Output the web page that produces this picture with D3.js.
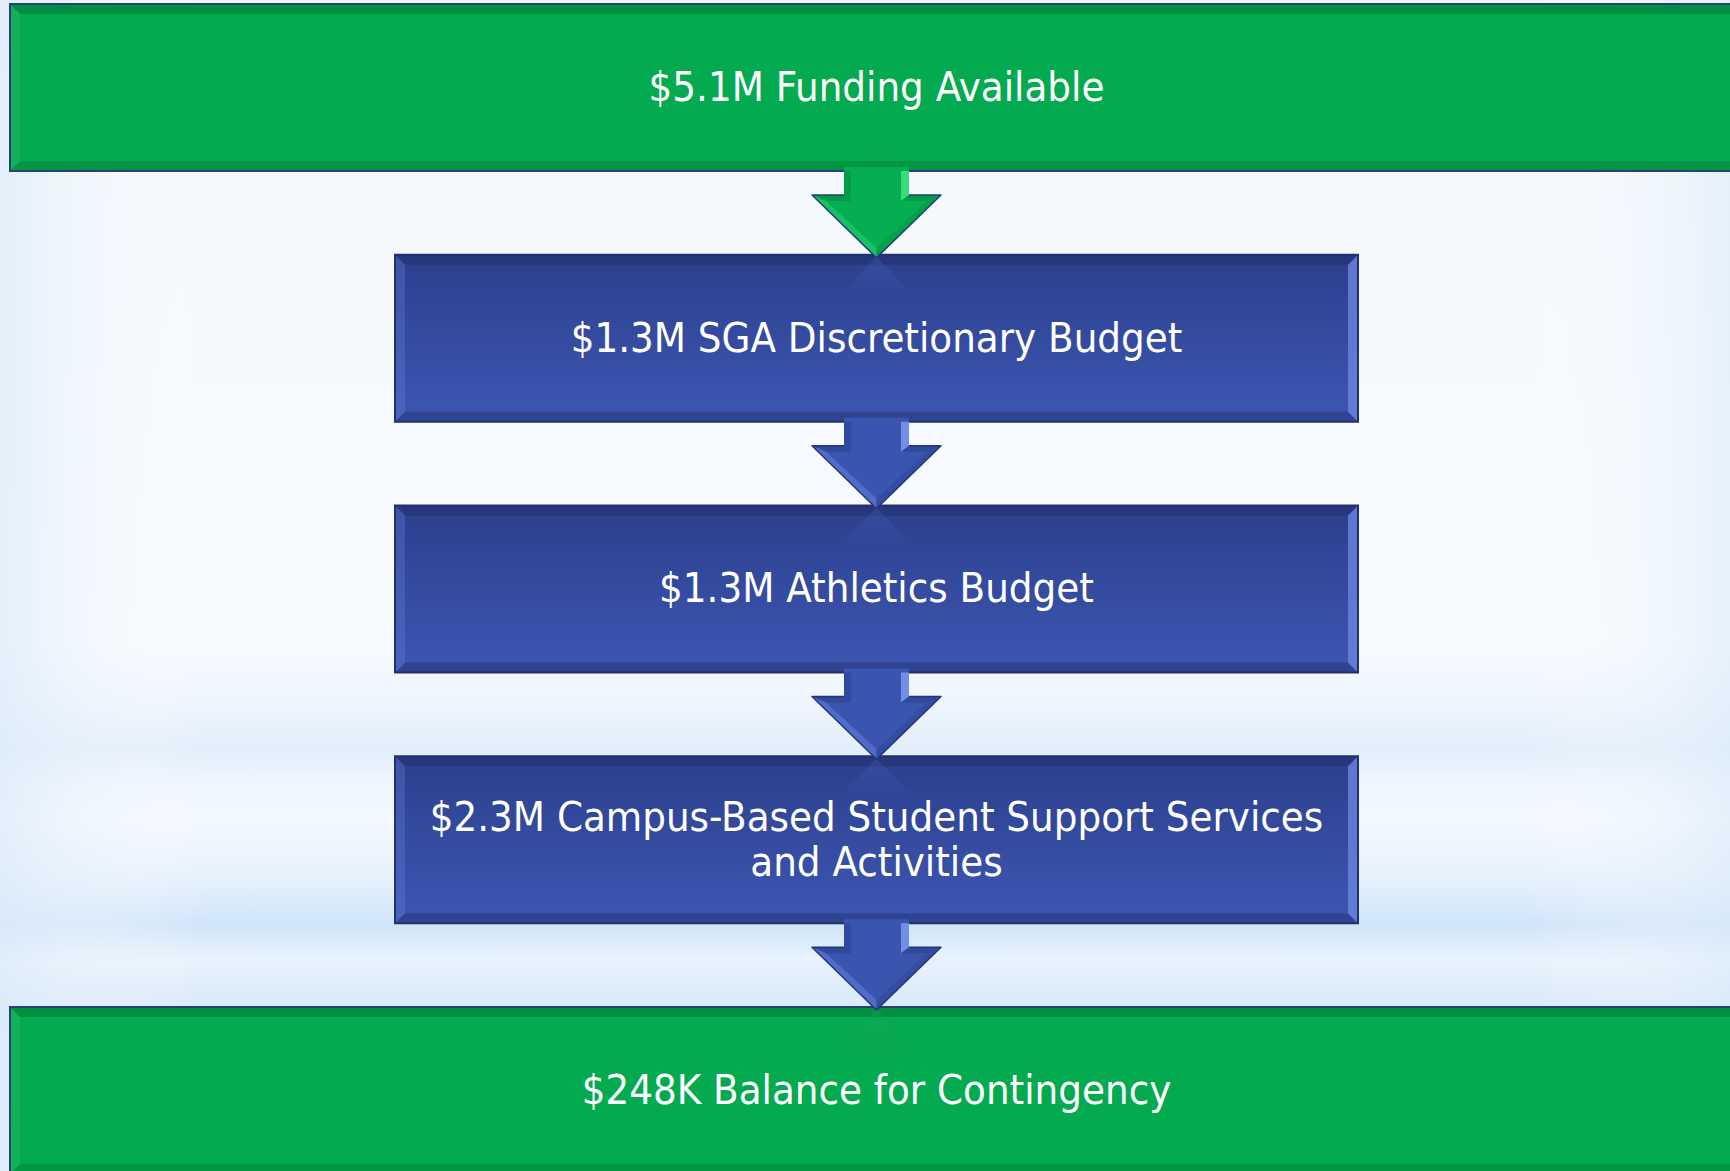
<!DOCTYPE html>
<html>
<head>
<meta charset="utf-8">
<script src="https://cdn.jsdelivr.net/npm/d3@7"></script>
<style>
  html, body { margin: 0; padding: 0; overflow: hidden; background: #f5f9fe; }
  .flow-label { font-family: "DejaVu Sans Condensed", "DejaVu Sans", sans-serif; fill: #ffffff; }
</style>
</head>
<body>
<div id="chart"></div>
<script>
// flow stages, top to bottom
const stages = ['funding', 'sga', 'athletics', 'campus', 'balance'];
const amounts = ['$5.1M', '$1.3M', '$1.3M', '$2.3M', '$248K'];
const labels = [
  ['Funding Available'],
  ['SGA Discretionary Budget'],
  ['Athletics Budget'],
  ['Campus-Based Student Support Services', 'and Activities'],
  ['Balance for Contingency']
];
const kinds = ['total', 'allocation', 'allocation', 'allocation', 'total'];

const width = 1730;
const height = 1171;

const svg = d3.select('#chart')
  .append('svg')
  .attr('width', width)
  .attr('height', height);

const defs = svg.append('defs');

// background
const bg = defs.append('linearGradient')
  .attr('id', 'bg')
  .attr('x1', 0).attr('y1', 0).attr('x2', 0).attr('y2', 1);
[
  [0, '#eef5fd'], [0.12, '#f5f9fe'], [0.55, '#f7fbff'], [0.6, '#eef5fd'],
  [0.64, '#e2eefb'], [0.67, '#eff6fe'], [0.7, '#f4f9ff'], [0.75, '#e6f1fc'],
  [0.79, '#cfe5f9'], [0.82, '#e9f3fd'], [0.85, '#dbeafa'], [1, '#e8f2fd']
].forEach(([o, c]) => bg.append('stop').attr('offset', o).attr('stop-color', c));

const side = defs.append('linearGradient')
  .attr('id', 'side')
  .attr('x1', 0).attr('y1', 0).attr('x2', 1).attr('y2', 0);
[[0, '#dcebfa', 0.7], [0.12, '#ffffff', 0], [0.88, '#ffffff', 0], [1, '#dcebfa', 0.6]]
  .forEach(([o, c, a]) => side.append('stop').attr('offset', o).attr('stop-color', c).attr('stop-opacity', a));

const blueFill = defs.append('linearGradient')
  .attr('id', 'blue-fill')
  .attr('x1', 0).attr('y1', 0).attr('x2', 0).attr('y2', 1);
blueFill.append('stop').attr('offset', 0).attr('stop-color', '#2c3f8c');
blueFill.append('stop').attr('offset', 1).attr('stop-color', '#3d57b2');

// fading reflection under each arrow tip
['total', 'allocation'].forEach(k => {
  const gr = defs.append('linearGradient')
    .attr('id', `reflect-${k}`)
    .attr('x1', 0).attr('y1', 0).attr('x2', 0).attr('y2', 1);
  const c = k === 'total' ? '#2a9f66' : '#4a66bf';
  gr.append('stop').attr('offset', 0).attr('stop-color', c).attr('stop-opacity', 0.7);
  gr.append('stop').attr('offset', 1).attr('stop-color', c).attr('stop-opacity', 0);
});

svg.append('rect').attr('width', width).attr('height', height).attr('fill', 'url(#bg)');
svg.append('rect').attr('width', width).attr('height', height).attr('fill', 'url(#side)');

// layout scales
const y = d3.scaleBand()
  .domain(stages)
  .range([4, 1174])
  .paddingInner(0.334)
  .paddingOuter(0);

const x = d3.scaleOrdinal()
  .domain(['total', 'allocation'])
  .range([[10, 1745], [395, 1358]]);

const cx = 876.5;
const bevel = 10;

const colors = {
  total: { fill: '#04aa4f', dark: '#02853c', light: '#35c06f', border: '#27407a' },
  allocation: { fill: 'url(#blue-fill)', dark: '#243474', light: '#6b83e2', border: '#22306c' }
};

const boxes = svg.append('g').attr('class', 'boxes')
  .selectAll('g')
  .data(stages)
  .join('g');

boxes.each(function (d, i) {
  const g = d3.select(this);
  const [x0, x1] = x(kinds[i]);
  const y0 = y(d);
  const y1 = y0 + y.bandwidth();
  const c = colors[kinds[i]];

  g.append('rect')
    .attr('x', x0).attr('y', y0)
    .attr('width', x1 - x0).attr('height', y1 - y0)
    .attr('fill', c.fill);

  // bevel faces
  g.append('path')
    .attr('d', `M${x0},${y0}L${x1},${y0}L${x1 - bevel},${y0 + bevel}L${x0 + bevel},${y0 + bevel}Z`)
    .attr('fill', c.dark).attr('opacity', 0.75);
  g.append('path')
    .attr('d', `M${x0},${y1}L${x1},${y1}L${x1 - bevel},${y1 - bevel}L${x0 + bevel},${y1 - bevel}Z`)
    .attr('fill', c.dark).attr('opacity', 0.55);
  g.append('path')
    .attr('d', `M${x0},${y0}L${x0 + bevel},${y0 + bevel}L${x0 + bevel},${y1 - bevel}L${x0},${y1}Z`)
    .attr('fill', c.light).attr('opacity', 0.3);
  g.append('path')
    .attr('d', `M${x1},${y0}L${x1 - bevel},${y0 + bevel}L${x1 - bevel},${y1 - bevel}L${x1},${y1}Z`)
    .attr('fill', c.light).attr('opacity', 0.8);

  g.append('rect')
    .attr('x', x0).attr('y', y0)
    .attr('width', x1 - x0).attr('height', y1 - y0)
    .attr('fill', 'none')
    .attr('stroke', c.border)
    .attr('stroke-width', 2);

  // faint reflection of the incoming arrow
  if (i > 0) {
    g.append('path')
      .attr('d', `M${cx},${y0 + 2}L${cx - 40},${y0 + 44}L${cx + 40},${y0 + 44}Z`)
      .attr('fill', `url(#reflect-${kinds[i]})`)
      .attr('opacity', 0.45);
  }

  const lines = labels[i].map((t, j) => j === 0 ? `${amounts[i]} ${t}` : t);
  const lineH = 45;
  const mid = (y0 + y1) / 2;
  g.append('text')
    .attr('class', 'flow-label')
    .attr('text-anchor', 'middle')
    .attr('font-size', 41.5)
    .selectAll('tspan')
    .data(lines)
    .join('tspan')
    .attr('x', cx)
    .attr('y', (t, j) => mid + (j - (lines.length - 1) / 2) * lineH)
    .attr('dy', '0.32em')
    .text(t => t);
});

// arrows between stages
const arrowColors = ['total', 'allocation', 'allocation', 'allocation'];
const arrowFill = {
  total: { fill: '#05ae50', dark: '#03893e', light: '#3fe486', edge: '#1d3f77' },
  allocation: { fill: '#3a55b0', dark: '#2a3f8a', light: '#7f98f0', edge: '#25347a' }
};

const arrows = svg.append('g').attr('class', 'arrows')
  .selectAll('g')
  .data(d3.pairs(stages))
  .join('g');

arrows.each(function ([from, to], i) {
  const g = d3.select(this);
  const c = arrowFill[arrowColors[i]];
  const top = y(from) + y.bandwidth() - 4;
  const wing = y(from) + y.bandwidth() + 24;
  const tip = y(to) + 3;
  const sw = 32.5;
  const ww = 64.5;

  g.append('path')
    .attr('d', `M${cx - sw},${top}L${cx + sw},${top}L${cx + sw},${wing}L${cx + ww},${wing}` +
      `L${cx},${tip}L${cx - ww},${wing}L${cx - sw},${wing}Z`)
    .attr('fill', c.fill);

  // shading on the shaft and head
  g.append('path')
    .attr('d', `M${cx + sw - 8},${top + 4}L${cx + sw},${top + 4}L${cx + sw},${wing}L${cx + sw - 8},${wing + 6}Z`)
    .attr('fill', c.light).attr('opacity', 0.85);
  g.append('path')
    .attr('d', `M${cx - sw},${top + 4}L${cx - sw + 7},${top + 4}L${cx - sw + 7},${wing + 6}L${cx - sw},${wing}Z`)
    .attr('fill', c.dark).attr('opacity', 0.5);
  g.append('path')
    .attr('d', `M${cx - ww},${wing}L${cx - sw},${wing}L${cx - sw + 7},${wing + 6}L${cx - ww + 14},${wing + 6}Z`)
    .attr('fill', c.dark).attr('opacity', 0.55);
  g.append('path')
    .attr('d', `M${cx + ww},${wing}L${cx + sw},${wing}L${cx + sw - 8},${wing + 6}L${cx + ww - 14},${wing + 6}Z`)
    .attr('fill', c.dark).attr('opacity', 0.55);
  g.append('path')
    .attr('d', `M${cx - ww},${wing}L${cx},${tip}L${cx},${tip - 10}L${cx - ww + 14},${wing + 6}Z`)
    .attr('fill', c.light).attr('opacity', 0.35);
  g.append('path')
    .attr('d', `M${cx + ww},${wing}L${cx},${tip}L${cx},${tip - 10}L${cx + ww - 14},${wing + 6}Z`)
    .attr('fill', c.dark).attr('opacity', 0.35);

  g.append('path')
    .attr('d', `M${cx - sw},${wing}L${cx - ww},${wing}L${cx},${tip}L${cx + ww},${wing}L${cx + sw},${wing}`)
    .attr('fill', 'none')
    .attr('stroke', c.edge)
    .attr('stroke-width', 1.5)
    .attr('stroke-linejoin', 'round');
});
</script>
</body>
</html>
